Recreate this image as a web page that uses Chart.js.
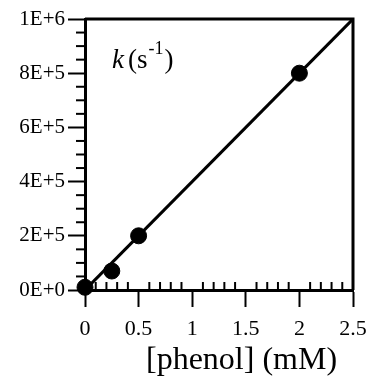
<!DOCTYPE html>
<html>
<head>
<meta charset="utf-8">
<script src="https://cdn.jsdelivr.net/npm/chart.js@4"></script>
<style>
  body { margin: 0; background: #fff; }
  #wrap { width: 369px; height: 380px; }
</style>
</head>
<body>
<div id="wrap"><canvas id="k-chart" width="369" height="380"></canvas></div>
<script>
// measured points
const phenol = [0, 0.25, 0.5, 2];
const rateK = [1e4, 7e4, 2e5, 8e5];
// fitted straight line
const fitPhenol = [0, 2.5];
const fitK = [0, 1e6];
// tick labels
const xTickLabels = ['0', '0.5', '1', '1.5', '2', '2.5'];
const yTickLabels = ['0E+0', '2E+5', '4E+5', '6E+5', '8E+5', '1E+6'];
const xTitle = '[phenol] (mM)';

const serif = 'Liberation Serif';

// minor ticks, top/right frame, axis title and the k (s-1) note
const extras = {
    id: 'extras',
    afterDraw(chart) {
        const c = chart.ctx;
        const a = chart.chartArea;
        const xs = chart.scales.x, ys = chart.scales.y;
        c.save();
        c.strokeStyle = '#000';
        c.lineWidth = 2;
        // x minor ticks point inward
        for (let i = 1; i < 25; i++) {
            if (i % 5 === 0) continue;
            const px = xs.getPixelForValue(i / 10);
            c.beginPath();
            c.moveTo(px, a.bottom);
            c.lineTo(px, a.bottom - 8);
            c.stroke();
        }
        // y minor ticks point outward
        for (let i = 1; i < 20; i++) {
            if (i % 4 === 0) continue;
            const py = ys.getPixelForValue(i * 5e4);
            c.beginPath();
            c.moveTo(a.left, py);
            c.lineTo(a.left - 9, py);
            c.stroke();
        }
        // frame top and right
        c.lineWidth = 3;
        c.beginPath();
        c.moveTo(a.left, a.top);
        c.lineTo(a.right, a.top);
        c.lineTo(a.right, a.bottom);
        c.stroke();
        c.fillStyle = '#000';
        c.textBaseline = 'alphabetic';
        // x axis title, sits a bit right of the plot centre
        c.font = '32px "' + serif + '"';
        c.textAlign = 'center';
        c.fillText(xTitle, xs.getPixelForValue(1.46), 369);
        c.textAlign = 'left';
        // label inside the plot
        let x = a.left + 27, y = a.top + 49;
        c.font = 'italic 27px "' + serif + '"';
        c.fillText('k', x, y);
        x += c.measureText('k').width + 4;
        c.font = '27px "' + serif + '"';
        c.fillText('(s', x, y);
        x += c.measureText('(s').width;
        c.font = '18px "' + serif + '"';
        c.fillText('-1', x + 1, y - 14);
        x += c.measureText('-1').width + 2;
        c.font = '27px "' + serif + '"';
        c.fillText(')', x, y);
        c.restore();
    }
};

new Chart(document.getElementById('k-chart').getContext('2d'), {
    type: 'scatter',
    data: {
        datasets: [
            {
                data: fitPhenol.map((v, i) => ({ x: v, y: fitK[i] })),
                showLine: true,
                borderColor: '#000',
                borderWidth: 3,
                pointRadius: 0
            },
            {
                data: phenol.map((v, i) => ({ x: v, y: rateK[i] })),
                backgroundColor: '#000',
                borderColor: '#000',
                pointRadius: 8,
                clip: false
            }
        ]
    },
    plugins: [extras],
    options: {
        responsive: false,
        animation: false,
        layout: { padding: { top: 19, right: 16, left: 0, bottom: 0 } },
        plugins: { legend: { display: false }, tooltip: { enabled: false } },
        scales: {
            x: {
                type: 'linear',
                min: 0,
                max: 2.5,
                afterFit(s) { s.height = 90; s.paddingLeft = 0; s.paddingRight = 0; },
                border: { display: true, color: '#000', width: 3 },
                grid: { drawOnChartArea: false, tickLength: 17, tickWidth: 2, tickColor: '#000' },
                ticks: {
                    stepSize: 0.5,
                    color: '#000',
                    padding: 9,
                    maxRotation: 0,
                    font: { family: serif, size: 22 },
                    callback: (v) => xTickLabels[Math.round(v / 0.5)]
                }
            },
            y: {
                type: 'linear',
                min: 0,
                max: 1e6,
                afterFit(s) { s.width = 85; s.paddingTop = 0; s.paddingBottom = 0; },
                border: { display: true, color: '#000', width: 3 },
                grid: { drawOnChartArea: false, tickLength: 17, tickWidth: 2, tickColor: '#000' },
                ticks: {
                    stepSize: 2e5,
                    color: '#000',
                    padding: 3,
                    font: { family: serif, size: 21 },
                    callback: (v) => yTickLabels[Math.round(v / 2e5)]
                }
            }
        }
    }
});
</script>
</body>
</html>
